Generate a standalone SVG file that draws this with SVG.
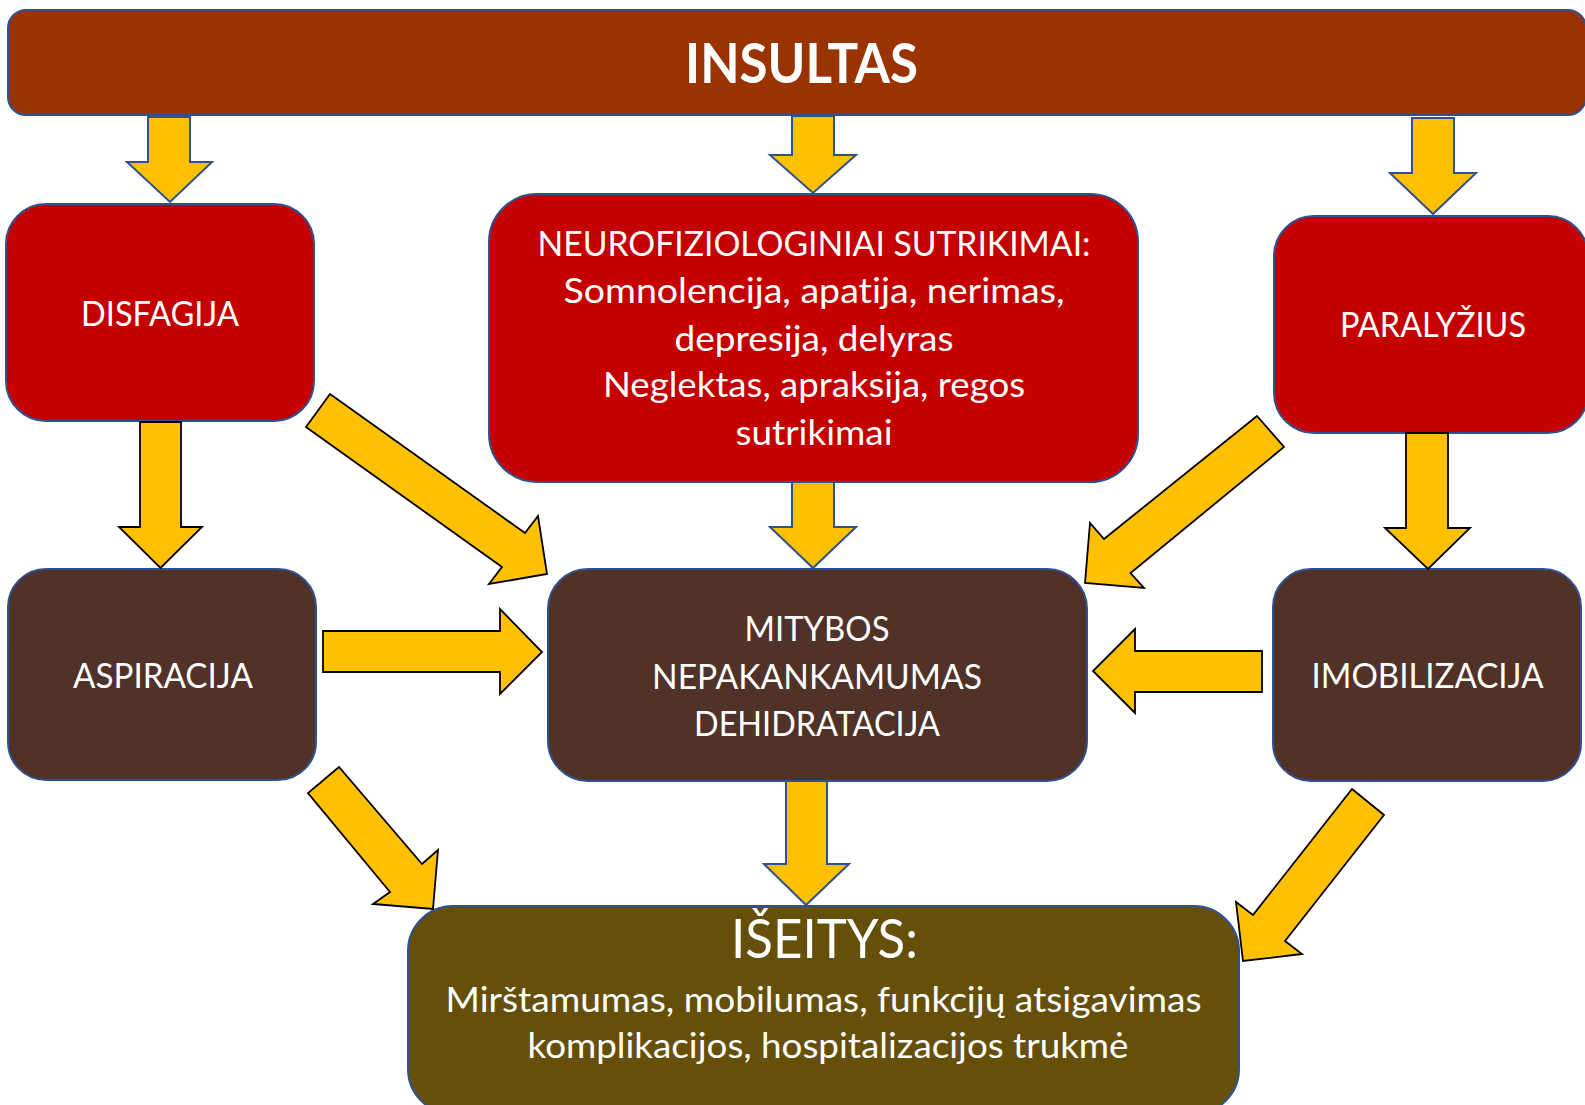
<svg xmlns="http://www.w3.org/2000/svg" width="1585" height="1105" viewBox="0 0 1585 1105">
<style>
.bx{stroke:#2F528F;stroke-width:2}
.red{fill:#C40000}
.dk{fill:#513229}
.t{font-family:Lato,"Noto Sans","Liberation Sans",sans-serif;fill:#FFFFFF;font-size:35px;text-anchor:middle;font-variant-ligatures:none;font-feature-settings:"liga" 0}
.ab{fill:#FFC000;stroke:#2F528F;stroke-width:2;stroke-linejoin:miter}
.ak{fill:#FFC000;stroke:#000000;stroke-width:1.8;stroke-linejoin:miter}
</style>
<rect width="1585" height="1105" fill="#FFFFFF"/>
<g id="insultas">
<rect class="bx" x="8" y="10" width="1578" height="105" rx="18" fill="#993300"/>
<text class="t" x="801.5" y="83" style="font-weight:bold;font-size:55px" textLength="233" lengthAdjust="spacingAndGlyphs">INSULTAS</text>
</g>
<g id="disfagija">
<rect class="bx red" x="6" y="204" width="308" height="217" rx="40"/>
<text class="t" x="160" y="326" textLength="158" lengthAdjust="spacingAndGlyphs">DISFAGIJA</text>
</g>
<g id="neuro">
<rect class="bx red" x="489" y="194" width="649" height="288" rx="48"/>
<text class="t" x="814" y="256" textLength="553" lengthAdjust="spacingAndGlyphs">NEUROFIZIOLOGINIAI SUTRIKIMAI:</text>
<text class="t" x="814" y="303" textLength="501" lengthAdjust="spacingAndGlyphs">Somnolencija, apatija, nerimas,</text>
<text class="t" x="814" y="351" textLength="279" lengthAdjust="spacingAndGlyphs">depresija, delyras</text>
<text class="t" x="814" y="397" textLength="422" lengthAdjust="spacingAndGlyphs">Neglektas, apraksija, regos</text>
<text class="t" x="814" y="445" textLength="157" lengthAdjust="spacingAndGlyphs">sutrikimai</text>
</g>
<g id="paralyzius">
<rect class="bx red" x="1274" y="216" width="314" height="217" rx="40"/>
<text class="t" x="1433" y="337" textLength="186" lengthAdjust="spacingAndGlyphs">PARALYŽIUS</text>
</g>
<g id="aspiracija">
<rect class="bx dk" x="8" y="569" width="308" height="211" rx="38"/>
<text class="t" x="163" y="688" textLength="180" lengthAdjust="spacingAndGlyphs">ASPIRACIJA</text>
</g>
<g id="mitybos">
<rect class="bx dk" x="548" y="569" width="539" height="212" rx="40"/>
<text class="t" x="817" y="641" textLength="145" lengthAdjust="spacingAndGlyphs">MITYBOS</text>
<text class="t" x="817" y="689" textLength="330" lengthAdjust="spacingAndGlyphs">NEPAKANKAMUMAS</text>
<text class="t" x="817" y="736" textLength="246" lengthAdjust="spacingAndGlyphs">DEHIDRATACIJA</text>
</g>
<g id="imobilizacija">
<rect class="bx dk" x="1273" y="569" width="308" height="212" rx="38"/>
<text class="t" x="1427.5" y="688" textLength="232" lengthAdjust="spacingAndGlyphs">IMOBILIZACIJA</text>
</g>
<g id="iseitys">
<rect class="bx" x="408" y="906" width="831" height="208" rx="45" fill="#665009"/>
<text class="t" x="824.5" y="958" style="font-size:54px" textLength="187" lengthAdjust="spacingAndGlyphs">IŠEITYS:</text>
<text class="t" x="823.5" y="1012" textLength="756" lengthAdjust="spacingAndGlyphs">Mirštamumas, mobilumas, funkcijų atsigavimas</text>
<text class="t" x="828" y="1058" textLength="601" lengthAdjust="spacingAndGlyphs">komplikacijos, hospitalizacijos trukmė</text>
</g>
<g id="connectors">
<polygon class="ab" points="148,117 190,117 190,162 212,162 170,202 127,162 148,162"/>
<polygon class="ab" points="792,116 834,116 834,155 856,155 813,193 770,155 792,155"/>
<polygon class="ab" points="1412,118 1454,118 1454,173 1476,173 1433,214 1390,173 1412,173"/>
<polygon class="ab" points="792,482 834,482 834,527 856,527 813,568 770,527 792,527"/>
<polygon class="ak" points="140,422 181,422 181,527 202,527 160.5,568 119,527 140,527"/>
<polygon class="ak" points="1406,433 1448,433 1448,528 1470,528 1428,569 1385,528 1406,528"/>
<polygon class="ab" points="786,781 827,781 827,864 849,864 806,905 764,864 786,864"/>
<polygon class="ak" points="330,394 306,427 502,567 489,584 547,574 538,516 525,533"/>
<polygon class="ak" points="1257,416 1284,447 1130.5,573 1144,588 1085,583 1090,523 1104,539"/>
<polygon class="ak" points="339,767 308,793 390,892 373,904 433,909 438,850 422,864"/>
<polygon class="ak" points="1352,789 1384,815 1285,941 1302,954 1243,961 1236,902 1253,915"/>
<polygon class="ak" points="323,631 500,631 500,609 542,652 500,694 500,672 323,672"/>
<polygon class="ak" points="1262,651 1135,651 1135,629 1093,671 1135,713 1135,692 1262,692"/>
</g>
</svg>
